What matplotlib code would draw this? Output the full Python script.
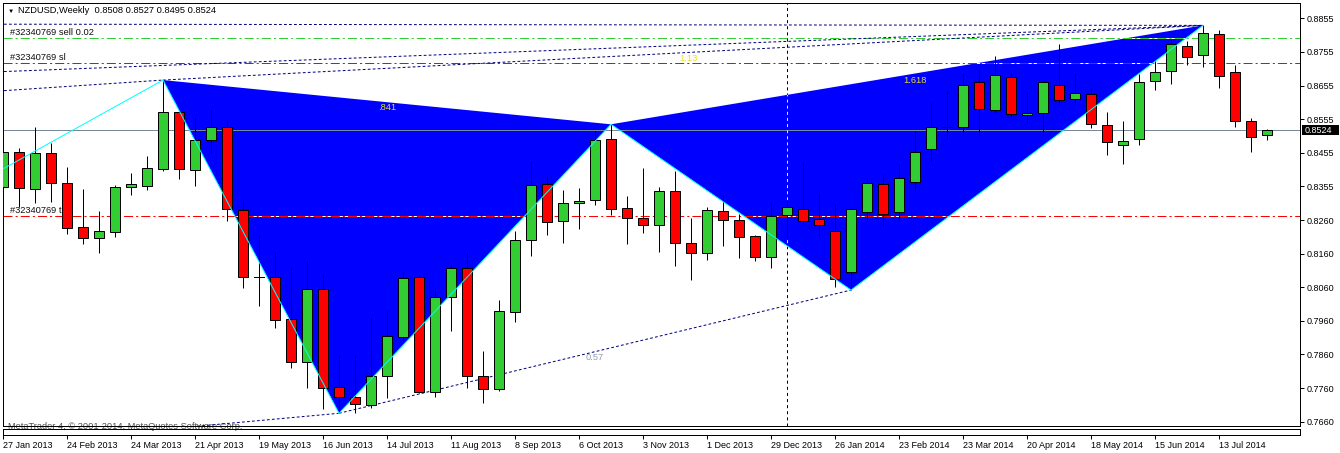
import numpy as np
import matplotlib.pyplot as plt
from matplotlib.patches import Rectangle, Polygon
from matplotlib.transforms import blended_transform_factory

plt.rcParams['font.family'] = ['Liberation Sans', 'DejaVu Sans']
plt.rcParams['lines.scale_dashes'] = False

# weekly NZDUSD candles, bar 0 = 27 Jan 2013
opens = [0.8354, 0.8458, 0.8349, 0.8455, 0.8366, 0.8237, 0.8203, 0.8223, 0.8354, 0.8359,
         0.8408, 0.8577, 0.8406, 0.8494, 0.8534, 0.8286, 0.8090, 0.8090, 0.7963, 0.7836,
         0.8052, 0.7762, 0.7732, 0.7710, 0.7796, 0.7912, 0.8088, 0.7749, 0.8030, 0.8115,
         0.7796, 0.7756, 0.7986, 0.8197, 0.8363, 0.8254, 0.8307, 0.8316, 0.8497, 0.8292,
         0.8263, 0.8242, 0.8343, 0.8189, 0.8159, 0.8283, 0.8257, 0.8209, 0.8147, 0.8271,
         0.8289, 0.8260, 0.8224, 0.8103, 0.8280, 0.8363, 0.8280, 0.8369, 0.8467, 0.8534,
         0.8532, 0.8665, 0.8582, 0.8680, 0.8568, 0.8574, 0.8657, 0.8615, 0.8630, 0.8538,
         0.8479, 0.8497, 0.8668, 0.8698, 0.8772, 0.8745, 0.8808, 0.8695, 0.8550, 0.8508]
highs = [0.8477, 0.8470, 0.8532, 0.8487, 0.8414, 0.8349, 0.8284, 0.8361, 0.8396, 0.8447,
         0.8672, 0.8580, 0.8561, 0.8583, 0.8554, 0.8317, 0.8213, 0.8162, 0.8117, 0.8135,
         0.8098, 0.7858, 0.7858, 0.7966, 0.7988, 0.8104, 0.8095, 0.8055, 0.8127, 0.8159,
         0.7870, 0.8021, 0.8225, 0.8432, 0.8389, 0.8346, 0.8351, 0.8521, 0.8541, 0.8329,
         0.8412, 0.8354, 0.8403, 0.8264, 0.8296, 0.8331, 0.8275, 0.8213, 0.8312, 0.8317,
         0.8429, 0.8341, 0.8305, 0.8294, 0.8382, 0.8390, 0.8423, 0.8521, 0.8603, 0.8640,
         0.8692, 0.8702, 0.8743, 0.8696, 0.8637, 0.8668, 0.8779, 0.8692, 0.8649, 0.8577,
         0.8551, 0.8690, 0.8731, 0.8790, 0.8787, 0.8834, 0.8820, 0.8717, 0.8559, 0.8527]
lows = [0.8278, 0.8297, 0.8307, 0.8312, 0.8215, 0.8186, 0.8161, 0.8208, 0.8332, 0.8346,
        0.8404, 0.8378, 0.8359, 0.8455, 0.8255, 0.8057, 0.8004, 0.7937, 0.7820, 0.7759,
        0.7697, 0.7685, 0.7687, 0.7700, 0.7729, 0.7900, 0.7744, 0.7732, 0.7930, 0.7759,
        0.7716, 0.7752, 0.7956, 0.8152, 0.8213, 0.8190, 0.8230, 0.8303, 0.8271, 0.8187,
        0.8220, 0.8164, 0.8120, 0.8081, 0.8138, 0.8181, 0.8146, 0.8137, 0.8115, 0.8203,
        0.8245, 0.8208, 0.8060, 0.8050, 0.8254, 0.8240, 0.8255, 0.8343, 0.8433, 0.8497,
        0.8514, 0.8510, 0.8577, 0.8562, 0.8544, 0.8514, 0.8600, 0.8603, 0.8529, 0.8449,
        0.8423, 0.8479, 0.8642, 0.8660, 0.8716, 0.8710, 0.8648, 0.8534, 0.8458, 0.8495]
closes = [0.8458, 0.8351, 0.8455, 0.8366, 0.8233, 0.8203, 0.8224, 0.8354, 0.8363, 0.8411,
          0.8577, 0.8408, 0.8494, 0.8534, 0.8289, 0.8090, 0.8090, 0.7961, 0.7836, 0.8052,
          0.7759, 0.7732, 0.7712, 0.7796, 0.7913, 0.8085, 0.7749, 0.8029, 0.8115, 0.7796,
          0.7756, 0.7987, 0.8197, 0.8360, 0.8253, 0.8307, 0.8314, 0.8495, 0.8289, 0.8263,
          0.8242, 0.8343, 0.8189, 0.8159, 0.8286, 0.8257, 0.8206, 0.8147, 0.8269, 0.8295,
          0.8254, 0.8243, 0.8083, 0.8289, 0.8366, 0.8274, 0.8382, 0.8458, 0.8532, 0.8534,
          0.8657, 0.8585, 0.8686, 0.8571, 0.8574, 0.8665, 0.8612, 0.8633, 0.8541, 0.8488,
          0.8491, 0.8665, 0.8695, 0.8778, 0.8739, 0.8811, 0.8683, 0.8550, 0.8503, 0.8524]

date_ticks = list(range(0, 80, 4))
date_labels = ['27 Jan 2013', '24 Feb 2013', '24 Mar 2013', '21 Apr 2013', '19 May 2013',
               '16 Jun 2013', '14 Jul 2013', '11 Aug 2013', '8 Sep 2013', '6 Oct 2013',
               '3 Nov 2013', '1 Dec 2013', '29 Dec 2013', '26 Jan 2014', '23 Feb 2014',
               '23 Mar 2014', '20 Apr 2014', '18 May 2014', '15 Jun 2014', '13 Jul 2014']
price_labels = ['0.8855', '0.8755', '0.8655', '0.8555', '0.8455', '0.8355', '0.8260',
                '0.8160', '0.8060', '0.7960', '0.7860', '0.7760', '0.7660']

# zigzag pattern points X, A, B, C, D, E (bar index, price)
zz_idx = [-3, 10, 21, 38, 53, 75]
zz_px = [0.8330, 0.8672, 0.7685, 0.8541, 0.8050, 0.8834]
# dotted ratio lines
dot_lines = [((-10, 0.8838), (75, 0.8834)),
             ((-5, 0.8688), (75, 0.8834)),
             ((-10, 0.8609), (10, 0.8672)),
             ((10, 0.8672), (75, 0.8834)),
             ((0, 0.7594), (21, 0.7685)),
             ((21, 0.7685), (53, 0.8050))]
ratio_text = ['.841', '1.618', '1.13', '0.57']
ratio_pos = [((10, 0.8672), (38, 0.8541)), ((38, 0.8541), (75, 0.8834)),
             ((10, 0.8672), (75, 0.8834)), ((21, 0.7685), (53, 0.8050))]

sell_px = 0.8796
sl_px = 0.8723
tp_px = 0.8270
bid = 0.8524
sep_bar = 49

W, H = 1340, 453
fig = plt.figure(figsize=(W / 100, H / 100), dpi=100)
ax = fig.add_axes([2.5 / W, (H - 426) / H, (1300 - 2.5) / W, (426 - 2.5) / H])
ax2 = fig.add_axes([2.5 / W, (H - 435) / H, (1300 - 2.5) / W, 6.5 / H])
ax2.set_facecolor('none')

lw = 0.72
ax.set_xlim(-0.031, 81.06)
ax.set_ylim(0.76473, 0.89018)
ax2.set_xlim(ax.get_xlim())
ax2.set_yticks([])

blend = blended_transform_factory(ax.transAxes, ax.transData)

# blue triangles
tri1 = [[zz_idx[1], zz_px[1]], [zz_idx[2], zz_px[2]], [zz_idx[3], zz_px[3]]]
tri2 = [[zz_idx[3], zz_px[3]], [zz_idx[4], zz_px[4]], [zz_idx[5], zz_px[5]]]
clips = []
for tri in (tri1, tri2):
    ax.add_patch(Polygon(tri, closed=True, facecolor='#0000ff', edgecolor='none', zorder=1))
    clips.append(Polygon(tri, closed=True, transform=ax.transData))

# trade lines
dashdot = (0, (6.5, 2.2, 1.5, 2.2))
for p, col in ((sell_px, '#32cd32'), (sl_px, '#ff0000'), (tp_px, '#ff0000')):
    for cp in clips:
        wl = ax.axhline(p, color='white', lw=lw, zorder=1.5)
        wl.set_clip_path(cp)
    ax.axhline(p, color=col, lw=lw, ls=dashdot, zorder=1.6)
for p, t in ((sell_px, '#32340769 sell 0.02'), (sl_px, '#32340769 sl'), (tp_px, '#32340769 tp')):
    ax.annotate(t, xy=(0.006, p), xycoords=blend, xytext=(0, 4), textcoords='offset points',
                va='center', ha='left', fontsize=6.7, color='#101010', zorder=1.7)

ax.axhline(bid, color='#778899', lw=lw, zorder=2)

# separator
ax.axvline(sep_bar, color='black', lw=lw, ls=(0, (2.2, 2.2)), zorder=2)
for cp in clips:
    yl = ax.axvline(sep_bar, color='#ffff00', lw=lw, ls=(0, (2.2, 2.2)), zorder=2.1)
    yl.set_clip_path(cp)

# dotted lines
for (x0, y0), (x1, y1) in dot_lines:
    ax.plot([x0, x1], [y0, y1], color='#000080', lw=lw, ls=(0, (2, 1.6)), zorder=2.2)

# candles
x = np.arange(len(opens))
ax.vlines(x, lows, highs, color='black', lw=lw, zorder=3)
for i in x:
    o, c = opens[i], closes[i]
    if abs(c - o) < 1e-5:
        ax.plot([i - 0.31, i + 0.31], [o, o], color='black', lw=lw, zorder=4)
        continue
    fc = '#32cd32' if c > o else '#ff0000'
    ax.add_patch(Rectangle((i - 0.31, min(o, c)), 0.62, abs(c - o), facecolor=fc,
                           edgecolor='black', lw=lw, zorder=4))

# zigzag edges
ax.plot(zz_idx[:2], zz_px[:2], color='#00ffff', lw=lw, zorder=5)
for k in range(1, 5):
    ax.plot(zz_idx[k:k + 2], zz_px[k:k + 2], color='#00ffff', lw=lw, zorder=5)

# ratio labels
offs = [(0, -4), (6, -4), (4, -4), (0, -4)]
for t, ((x0, y0), (x1, y1)), off in zip(ratio_text, ratio_pos, offs):
    col = '#8f9fb0' if t == '0.57' else '#e8e020'
    ax.annotate(t, xy=((x0 + x1) / 2, (y0 + y1) / 2), xytext=off, textcoords='offset points',
                ha='center', va='center', fontsize=6.7, color=col, zorder=6)

# axes styling
ax.set_xticks([])
ax.yaxis.tick_right()
ax.set_yticks(np.linspace(0.8855, 0.766, 13))
ax.set_yticklabels(price_labels)
ax.tick_params(axis='y', direction='out', length=3, width=lw, pad=1.5, labelsize=6.5)
ax2.set_xticks(date_ticks)
ax2.set_xticklabels(date_labels, ha='left')
ax2.tick_params(axis='x', direction='out', length=3, width=lw, pad=1.0, labelsize=6.5)
for a in (ax, ax2):
    for s in a.spines.values():
        s.set_linewidth(lw)

# bid price box on the right scale
box_h = 0.0030
ax.add_patch(Rectangle((1.0 + 1.5 / 1297.5, bid - box_h / 2), 37 / 1297.5, box_h,
                       transform=blend, facecolor='black', edgecolor='none',
                       clip_on=False, zorder=9))
ax.text(1.0 + 4.5 / 1297.5, bid, '0.8524', transform=blend, ha='left', va='center',
        fontsize=6.5, color='white', zorder=10, clip_on=False)

ax.text(16 / 1297.5, 1 - 8 / 423.5, 'NZDUSD,Weekly  0.8508 0.8527 0.8495 0.8524',
        transform=ax.transAxes, ha='left', va='center', fontsize=6.7, color='black', zorder=10)
ax.text(5 / 1297.5, 1 - 8.5 / 423.5, '\u25bc', transform=ax.transAxes, ha='left', va='center',
        fontsize=4.5, color='black', zorder=10)
ax.text(5 / 1297.5, -0.5 / 423.5, 'MetaTrader 4, \u00a9 2001-2014, MetaQuotes Software Corp.',
        transform=ax.transAxes, ha='left', va='center', fontsize=6.7, color='#505050',
        zorder=1, clip_on=False)

fig.savefig('out.png', dpi=100)
